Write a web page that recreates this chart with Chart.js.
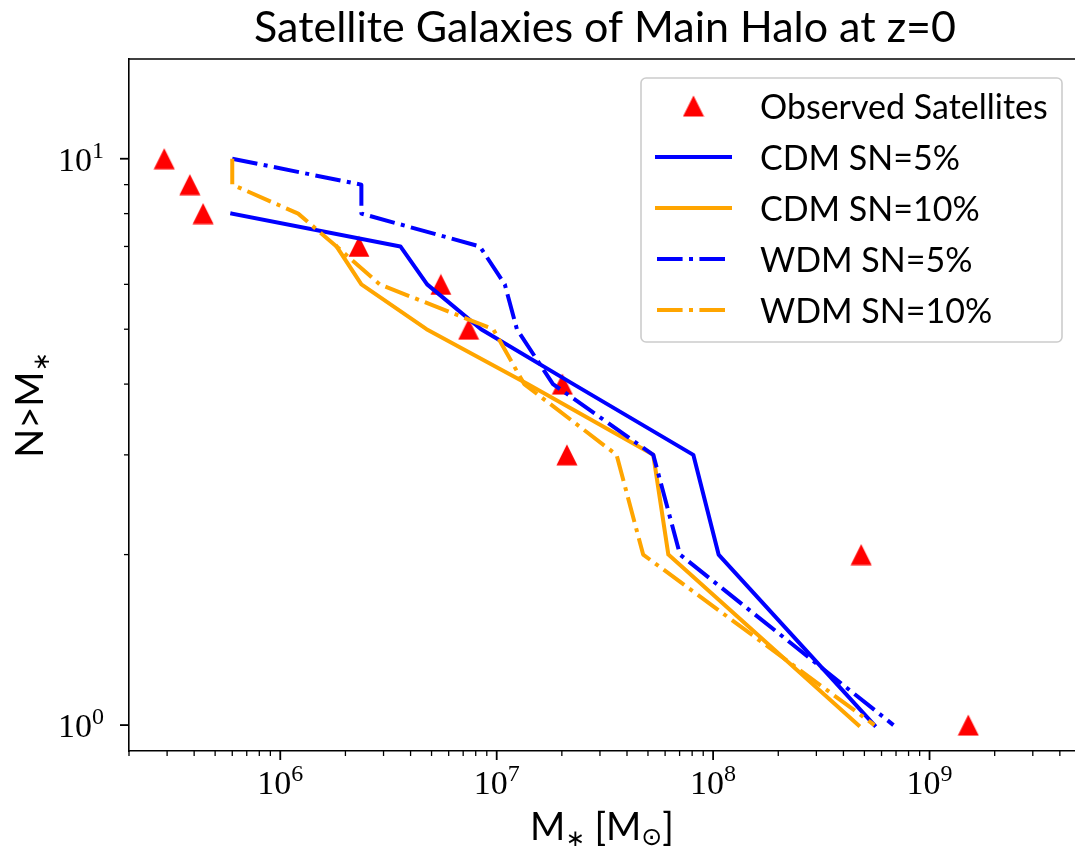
<!DOCTYPE html>
<html>
<head>
<meta charset="utf-8">
<title>Satellite Galaxies of Main Halo at z=0</title>
<script src="https://cdn.jsdelivr.net/npm/chart.js@4.4.1/dist/chart.umd.min.js"></script>
<style>
  html, body { margin: 0; padding: 0; background: #fff; }
  #wrap { width: 1075px; height: 849px; }
</style>
</head>
<body>
<div id="wrap"><canvas id="satellites" width="1075" height="849"></canvas></div>
<script>
// observed satellites: stellar mass [Msun] and cumulative count N(>M*)
const obsMass  = [2.91e5, 3.82e5, 4.40e5, 2.31e6, 5.52e6, 7.42e6, 2.01e7, 2.11e7, 4.83e8, 1.51e9];
const obsCount = [10, 9, 8, 7, 6, 5, 4, 3, 2, 1];

// CDM, SN efficiency 5%
const cdm5Mass  = [6.0e5, 3.59e6, 4.77e6, 8.47e6, 2.26e7, 8.1e7, 1.06e8, 5.56e8];
const cdm5Count = [8, 7, 6, 5, 4, 3, 2, 1];

// CDM, SN efficiency 10%
const cdm10Mass  = [1.82e6, 2.37e6, 4.74e6, 1.39e7, 5.29e7, 6.21e7, 4.69e8];
const cdm10Count = [7, 6, 5, 4, 3, 2, 1];

// WDM, SN efficiency 5%
const wdm5Mass  = [6.0e5, 2.37e6, 2.37e6, 8.36e6, 1.09e7, 1.24e7, 1.82e7, 5.29e7, 7.03e7, 6.81e8];
const wdm5Count = [10, 9, 8, 7, 6, 5, 4, 3, 2, 1];

// WDM, SN efficiency 10%
const wdm10Mass  = [6.0e5, 6.0e5, 1.21e6, 1.82e6, 2.88e6, 9.64e6, 1.34e7, 3.58e7, 4.75e7, 5.56e8];
const wdm10Count = [10, 9, 8, 7, 6, 5, 4, 3, 2, 1];

const seriesLabels = ["Observed Satellites", "CDM SN=5%", "CDM SN=10%", "WDM SN=5%", "WDM SN=10%"];

// axis ranges and major ticks
const xRange = [2e5, 4.7e9];
const yRange = [0.9, 15];
const xMajorTicks = [1e6, 1e7, 1e8, 1e9];
const yMajorTicks = [1, 10];

const titleText = "Satellite Galaxies of Main Halo at z=0";

const SANS = "Lato, 'DejaVu Sans', sans-serif";
const SERIF = "'Liberation Serif', 'DejaVu Serif', serif";
const DASHDOT = [25.6, 6.4, 4, 6.4];

function toPoints(xs, ys) {
    return xs.map((x, i) => ({ x: x, y: ys[i] }));
}

// 1..9 x 10^n values inside [lo, hi], for the log tick marks
function logTicks(lo, hi) {
    const out = [];
    for (let e = Math.floor(Math.log10(lo)); Math.pow(10, e) <= hi; e++) {
        for (let m = 1; m < 10; m++) {
            const v = m * Math.pow(10, e);
            if (v >= lo * 0.9999 && v <= hi) out.push(v);
        }
    }
    return out;
}

function isDecade(v) {
    const l = Math.log10(v);
    return Math.abs(l - Math.round(l)) < 1e-6;
}

// red "^" marker, centred on its bounding box like matplotlib
const triangleMarker = (() => {
    const c = document.createElement("canvas");
    c.width = 22; c.height = 22;
    const g = c.getContext("2d");
    g.fillStyle = "#ff0000";
    g.beginPath();
    g.moveTo(11, 0.5); g.lineTo(21.5, 21.5); g.lineTo(0.5, 21.5);
    g.closePath();
    g.fill();
    return c;
})();

// "10" with a raised exponent
function drawPower(ctx, exponent, x, y, align) {
    ctx.font = "34px " + SERIF;
    const wBase = ctx.measureText("10").width;
    ctx.font = "24px " + SERIF;
    const wSup = ctx.measureText(String(exponent)).width;
    const total = wBase + wSup;
    const left = align === "right" ? x - total : x - total / 2;
    ctx.textAlign = "left";
    ctx.textBaseline = "alphabetic";
    ctx.font = "34px " + SERIF;
    ctx.fillText("10", left, y);
    ctx.font = "24px " + SERIF;
    ctx.fillText(String(exponent), left + wBase, y - 13);
}

// text with subscripts, centred on x
function drawRich(ctx, parts, x, y) {
    let total = 0;
    parts.forEach(p => {
        ctx.font = p.size + "px " + SANS;
        p.w = ctx.measureText(p.t).width;
        total += p.w;
    });
    let cx = x - total / 2;
    ctx.textAlign = "left";
    ctx.textBaseline = "alphabetic";
    parts.forEach(p => {
        ctx.font = p.size + "px " + SANS;
        ctx.fillText(p.t, cx, y + (p.dy || 0));
        cx += p.w;
    });
}

const decorPlugin = {
    id: "decor",
    afterDraw(chart) {
        const { ctx, chartArea: a, scales } = chart;
        const xs = scales.x, ys = scales.y;
        ctx.save();
        ctx.fillStyle = "#000";
        ctx.strokeStyle = "#000";

        // top spine (the right one falls outside the picture)
        ctx.lineWidth = 1.6;
        ctx.beginPath();
        ctx.moveTo(a.left - 0.8, a.top);
        ctx.lineTo(a.right, a.top);
        ctx.stroke();

        // x tick marks and labels
        xs.ticks.forEach(t => {
            const px = xs.getPixelForValue(t.value);
            const major = isDecade(t.value);
            ctx.lineWidth = major ? 1.8 : 1.3;
            ctx.beginPath();
            ctx.moveTo(px, a.bottom);
            ctx.lineTo(px, a.bottom + (major ? 9 : 5));
            ctx.stroke();
            if (major && xMajorTicks.includes(t.value)) {
                drawPower(ctx, Math.round(Math.log10(t.value)), px, 794, "center");
            }
        });

        // y tick marks and labels
        ys.ticks.forEach(t => {
            const py = ys.getPixelForValue(t.value);
            const major = isDecade(t.value);
            ctx.lineWidth = major ? 1.8 : 1.3;
            ctx.beginPath();
            ctx.moveTo(a.left, py);
            ctx.lineTo(a.left - (major ? 9 : 5), py);
            ctx.stroke();
            if (major && yMajorTicks.includes(t.value)) {
                drawPower(ctx, Math.round(Math.log10(t.value)), 104, py + 12, "right");
            }
        });

        // title
        ctx.font = "43px " + SANS;
        ctx.textAlign = "center";
        ctx.textBaseline = "alphabetic";
        ctx.fillText(titleText, (a.left + a.right) / 2 + 3, 42);

        // x axis label: M_* [M_sun]
        drawRich(ctx, [
            { t: "M", size: 38 },
            { t: "\u2217", size: 23, dy: 6 },
            { t: " [M", size: 38 },
            { t: "\u2299", size: 25, dy: 5 },
            { t: "]", size: 38 }
        ], (a.left + a.right) / 2, 840);

        // y axis label: N>M_*
        ctx.save();
        ctx.translate(43, (a.top + a.bottom) / 2);
        ctx.rotate(-Math.PI / 2);
        drawRich(ctx, [
            { t: "N>M", size: 38 },
            { t: "\u2217", size: 23, dy: 6 }
        ], 0, 0);
        ctx.restore();

        // legend, upper right
        const box = { x: a.right - 434, y: a.top + 19, w: 421, h: 264, r: 5 };
        ctx.globalAlpha = 0.8;
        ctx.fillStyle = "#fff";
        ctx.beginPath();
        ctx.roundRect(box.x, box.y, box.w, box.h, box.r);
        ctx.fill();
        ctx.globalAlpha = 1;
        ctx.strokeStyle = "#cccccc";
        ctx.lineWidth = 1.6;
        ctx.stroke();

        chart.data.datasets.forEach((ds, i) => {
            const cy = box.y + 28 + i * 51;
            const x0 = box.x + 14, x1 = box.x + 91;
            if (ds.showLine) {
                ctx.strokeStyle = ds.borderColor;
                ctx.lineWidth = ds.borderWidth;
                ctx.setLineDash(ds.borderDash || []);
                ctx.lineCap = ds.borderDash ? "butt" : "square";
                ctx.beginPath();
                ctx.moveTo(x0 + 2, cy);
                ctx.lineTo(x1 - 2, cy);
                ctx.stroke();
                ctx.setLineDash([]);
            } else {
                ctx.drawImage(triangleMarker, (x0 + x1) / 2 - 11, cy - 11);
            }
            ctx.fillStyle = "#000";
            ctx.font = "34px " + SANS;
            ctx.textAlign = "left";
            ctx.textBaseline = "alphabetic";
            ctx.fillText(ds.label, box.x + 119, cy + 12.5);
        });

        ctx.restore();
    }
};

function lineSet(label, xs, ys, color, dash, order) {
    return {
        label: label,
        data: toPoints(xs, ys),
        showLine: true,
        borderColor: color,
        borderWidth: 4,
        borderDash: dash,
        borderCapStyle: dash ? "butt" : "square",
        borderJoinStyle: "round",
        pointRadius: 0,
        tension: 0,
        order: order
    };
}

function build() {
    new Chart("satellites", {
        type: "scatter",
        data: {
            datasets: [
                {
                    label: seriesLabels[0],
                    data: toPoints(obsMass, obsCount),
                    pointStyle: triangleMarker,
                    pointRadius: 11,
                    backgroundColor: "#ff0000",
                    borderWidth: 0,
                    showLine: false,
                    order: 5
                },
                lineSet(seriesLabels[1], cdm5Mass, cdm5Count, "#0000ff", undefined, 4),
                lineSet(seriesLabels[2], cdm10Mass, cdm10Count, "#ffa500", undefined, 3),
                lineSet(seriesLabels[3], wdm5Mass, wdm5Count, "#0000ff", DASHDOT, 2),
                lineSet(seriesLabels[4], wdm10Mass, wdm10Count, "#ffa500", DASHDOT, 1)
            ]
        },
        options: {
            responsive: false,
            animation: false,
            devicePixelRatio: 1,
            events: [],
            layout: { autoPadding: false, padding: { top: 59, left: 0, right: 0, bottom: 0 } },
            plugins: {
                legend: { display: false },
                title: { display: false },
                tooltip: { enabled: false }
            },
            scales: {
                x: {
                    type: "logarithmic",
                    min: xRange[0],
                    max: xRange[1],
                    grid: { display: false, drawTicks: false },
                    border: { display: true, color: "#000", width: 1.6 },
                    ticks: { display: false },
                    afterBuildTicks: axis => { axis.ticks = logTicks(xRange[0], xRange[1]).map(v => ({ value: v })); },
                    afterFit: scale => { scale.height = 98; }
                },
                y: {
                    type: "logarithmic",
                    min: yRange[0],
                    max: yRange[1],
                    grid: { display: false, drawTicks: false },
                    border: { display: true, color: "#000", width: 1.6 },
                    ticks: { display: false },
                    afterBuildTicks: axis => { axis.ticks = logTicks(1, yRange[1]).map(v => ({ value: v })); },
                    afterFit: scale => { scale.width = 129; }
                }
            }
        },
        plugins: [decorPlugin]
    });
}

if (document.fonts && document.fonts.load) {
    Promise.all([
        document.fonts.load("40px Lato"),
        document.fonts.load("34px 'Liberation Serif'")
    ]).then(build, build);
} else {
    build();
}
</script>
</body>
</html>
